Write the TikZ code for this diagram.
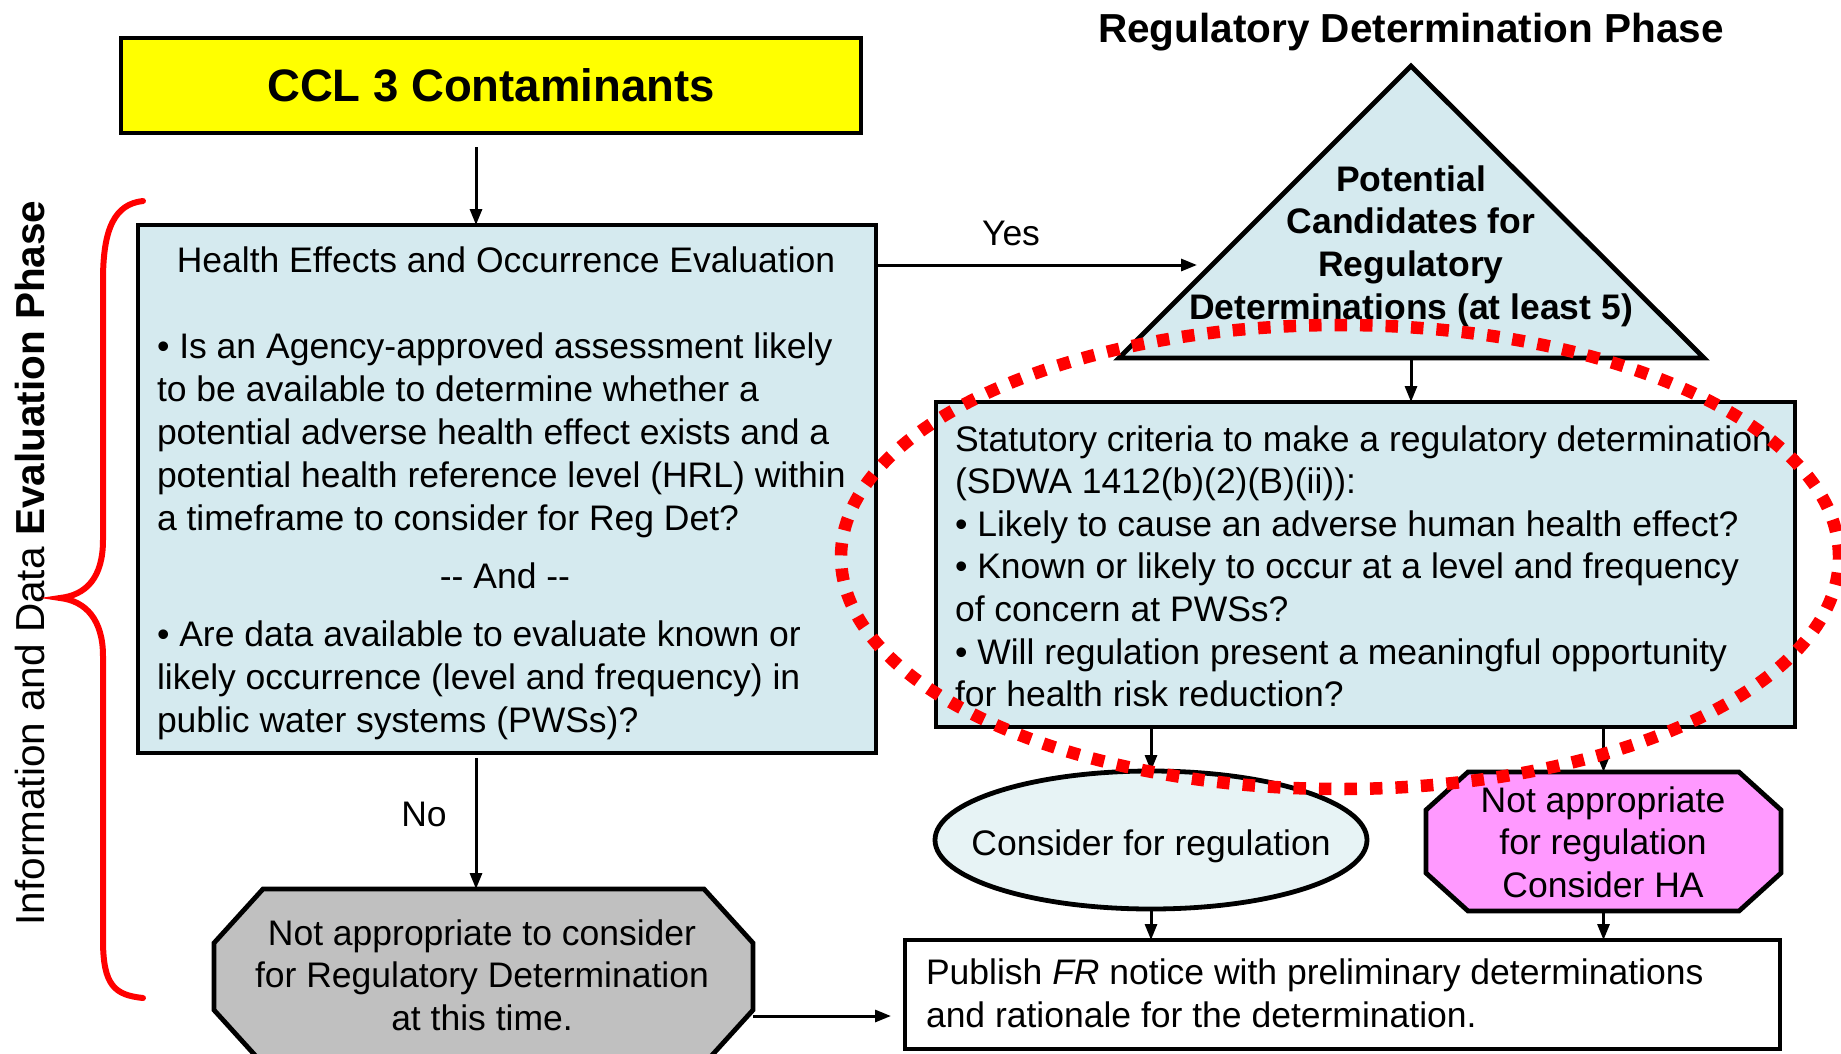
\documentclass[tikz,border=0pt]{standalone}
\usepackage{fontspec}
\setmainfont{Liberation Sans}
\usetikzlibrary{arrows.meta,calc,shapes.geometric}
\definecolor{lblue}{RGB}{213,234,239}
\definecolor{elblue}{RGB}{231,243,245}
\definecolor{pinkf}{RGB}{255,153,255}
\definecolor{grayf}{RGB}{192,192,192}
\definecolor{yellowf}{RGB}{255,255,0}
\definecolor{redl}{RGB}{255,0,0}
\begin{document}
\begin{tikzpicture}[x=1pt,y=-1pt,
  txt/.style={font=\fontsize{35.5}{43}\selectfont, inner sep=0, outer sep=0},
  btxt/.style={txt, font=\fontsize{35.5}{43}\selectfont\bfseries},
  box/.style={draw, line width=4.8pt, inner sep=0, outer sep=0, line join=miter},
  ghost/.style={inner sep=0, outer sep=0, draw=none},
  arr/.style={line width=3pt, -{Triangle[length=16pt,width=12pt]}},
  dotring/.style={draw=redl, line width=12.5pt, dash pattern=on 12.5pt off 13pt}]
\useasboundingbox (0,0) rectangle (1841,1053);
\clip (0,0) rectangle (1841,1053);

% ---------- shapes ----------
\node[box, fill=yellowf, minimum width=740, minimum height=95] (ccl) at (491,85.5) {};
\node[box, fill=lblue, minimum width=738, minimum height=528] (he) at (507,489) {};
\node[box, fill=lblue, minimum width=859, minimum height=325] (stat) at (1365.5,564.5) {};
\node[box, fill=white, minimum width=875, minimum height=109] (pub) at (1342.5,994.5) {};
\node[box, ellipse, fill=elblue, minimum width=432, minimum height=138] (ell) at (1151,840) {};

% triangle
\coordinate (triA) at (1411,66);
\coordinate (triL) at (1119,358);
\coordinate (triR) at (1704,358);
\draw[box, fill=lblue] (triA) -- (triL) -- (triR) -- cycle;

% pink octagon
\node[ghost, minimum width=355, minimum height=139] (pink) at (1603.5,841.5) {};
\draw[box, fill=pinkf]
  ($(pink.north west)+(42,0)$) -- ($(pink.north east)+(-42,0)$) --
  ($(pink.north east)+(0,38)$) -- ($(pink.south east)+(0,-38)$) --
  ($(pink.south east)+(-42,0)$) -- ($(pink.south west)+(42,0)$) --
  ($(pink.south west)+(0,-38)$) -- ($(pink.north west)+(0,38)$) -- cycle;

% gray octagon
\node[ghost, minimum width=539, minimum height=175] (gray) at (483.5,976.5) {};
\draw[box, fill=grayf]
  ($(gray.north west)+(49,0)$) -- ($(gray.north east)+(-49,0)$) --
  ($(gray.north east)+(0,54)$) -- ($(gray.south east)+(0,-54)$) --
  ($(gray.south east)+(-49,0)$) -- ($(gray.south west)+(49,0)$) --
  ($(gray.south west)+(0,-54)$) -- ($(gray.north west)+(0,54)$) -- cycle;

% ---------- texts ----------
\node[txt, font=\fontsize{40.5}{48}\selectfont\bfseries, anchor=base] (title) at (1411,42) {Regulatory Determination Phase};
\node[txt, font=\fontsize{45.5}{52}\selectfont\bfseries, anchor=base] (ccltxt) at (491,101) {CCL 3 Contaminants};
\node[txt, anchor=base] (hetitle) at (506,272) {Health Effects and Occurrence Evaluation};

\foreach \t [count=\i from 0] in {%
  {• Is an Agency-approved assessment likely},
  {to be available to determine whether a},
  {potential adverse health effect exists and a},
  {potential health reference level (HRL) within},
  {a timeframe to consider for Reg Det?}}
  \node[txt, anchor=base west] (hq\i) at (157,{358+43*\i}) {\t};
\node[txt, anchor=base] (andtxt) at (505,588) {-\kern0pt- And -\kern0pt-};
\foreach \t [count=\i from 0] in {%
  {• Are data available to evaluate known or},
  {likely occurrence (level and frequency) in},
  {public water systems (PWSs)?}}
  \node[txt, anchor=base west] (hd\i) at (157,{646+43*\i}) {\t};

\foreach \t [count=\i from 0] in {%
  {Potential},{Candidates for},{Regulatory},{Determinations (at least 5)}}
  \node[btxt, anchor=base] (tr\i) at (1411,{191+42.67*\i}) {\t};

\foreach \t [count=\i from 0] in {%
  {Statutory criteria to make a regulatory determination},
  {(SDWA 1412(b)(2)(B)(ii)):},
  {• Likely to cause an adverse human health effect?},
  {• Known or likely to occur at a level and frequency},
  {of concern at PWSs?},
  {• Will regulation present a meaningful opportunity},
  {for health risk reduction?}}
  \node[txt, anchor=base west] (st\i) at (955,{451+42.6*\i}) {\t};

\node[txt, anchor=base] (elltxt) at (1151,855) {Consider for regulation};

\foreach \t [count=\i from 0] in {%
  {Not appropriate},{for regulation},{Consider HA}}
  \node[txt, anchor=base] (pk\i) at (1603,{812+42.5*\i}) {\t};

\foreach \t [count=\i from 0] in {%
  {Not appropriate to consider},{for Regulatory Determination},{at this time.}}
  \node[txt, anchor=base] (gr\i) at (482,{945+42.5*\i}) {\t};

\foreach \t [count=\i from 0] in {%
  {Publish \textit{FR} notice with preliminary determinations},
  {and rationale for the determination.}}
  \node[txt, anchor=base west] (pb\i) at (926,{984+43*\i}) {\t};

\node[txt, anchor=base] (yes) at (1011,245) {Yes};
\node[txt, anchor=base] (no) at (424,826) {No};

\node[txt, font=\fontsize{40.5}{46}\selectfont, rotate=90, anchor=base] (phase) at (44,563)
  {Information and Data \textbf{Evaluation Phase}};

% ---------- connectors ----------
\coordinate (colA) at (476,0);
\coordinate (yesEnd) at (1197,265);
\coordinate (gpY) at (0,1016);
\draw[arr, shorten <=14pt] (ccl.south -| colA) -- (he.north -| colA);
\draw[arr, shorten <=5pt] (he.south -| colA) -- (gray.north -| colA);
\draw[arr] (he.east |- yesEnd) -- (yesEnd);
\draw[arr] (triL -| triA) -- (stat.north -| triA);
\draw[arr] (stat.south -| ell.north) -- (ell.north);
\draw[arr] (stat.south -| pink.north) -- (pink.north);
\draw[arr] (ell.south) -- (pub.north -| ell.south);
\draw[arr] (pink.south) -- (pub.north -| pink.south);
\draw[arr, shorten >=14pt] (gray.east |- gpY) -- (pub.west |- gpY);

% red brace
\draw[redl, line width=6pt, line cap=round]
  (143,201) .. controls (115,204) and (103,228) .. (103,280) -- (103,540)
  .. controls (103,578) and (86,595) .. (60,598)
  .. controls (86,601) and (103,620) .. (103,656) -- (103,940)
  .. controls (103,986) and (115,995) .. (143,998);

% red dotted ellipse
\draw[dotring] (1340,557) ellipse [x radius=499pt, y radius=232pt];
\end{tikzpicture}
\end{document}
